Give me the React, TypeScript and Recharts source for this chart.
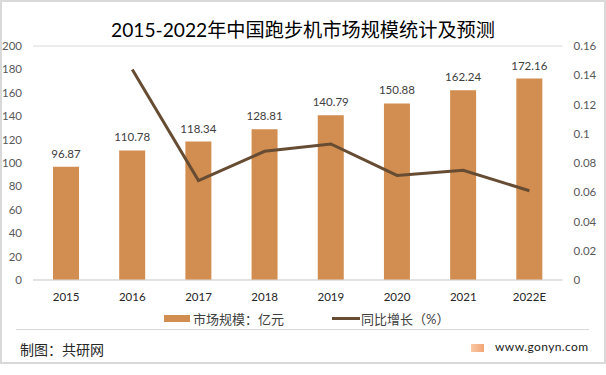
import React from 'react';
import { ComposedChart, Bar, Line, XAxis, YAxis, CartesianGrid, LabelList, Legend } from 'recharts';

const years = ['2015', '2016', '2017', '2018', '2019', '2020', '2021', '2022E'];
const marketSize = [96.87, 110.78, 118.34, 128.81, 140.79, 150.88, 162.24, 172.16];
const growth = [null, 0.144, 0.068, 0.088, 0.093, 0.0715, 0.075, 0.061];
const leftTicks = [0, 20, 40, 60, 80, 100, 120, 140, 160, 180, 200];
const rightTicks = [0, 0.02, 0.04, 0.06, 0.08, 0.1, 0.12, 0.14, 0.16];
const data = years.map((year, i) => ({ year, size: marketSize[i], growth: growth[i] }));

const FONT = 'Lato, "Noto Sans CJK SC", sans-serif';
const BAR = '#D28D50';
const LINE = '#664C33';

const LegendContent = () => (
  <div style={{ position: 'relative', height: 16, fontFamily: FONT, fontSize: 13, lineHeight: '16px', color: '#404040' }}>
    <span style={{ position: 'absolute', left: 164, top: 4, width: 26, height: 7, background: BAR }} />
    <span style={{ position: 'absolute', left: 193, top: 0, whiteSpace: 'nowrap' }}>市场规模：亿元</span>
    <span style={{ position: 'absolute', left: 332, top: 6, width: 28, height: 3, background: LINE }} />
    <span style={{ position: 'absolute', left: 361, top: 0, whiteSpace: 'nowrap' }}>同比增长（%）</span>
  </div>
);

export default function App() {
  return (
    <div style={{ position: 'absolute', left: 0, top: 0, width: 606, height: 375, background: '#fff', fontFamily: FONT, overflow: 'hidden' }}>
      <div style={{ position: 'absolute', left: 0, top: 0, width: 602, height: 360, border: '2px solid #d9d9d9' }} />
      <div style={{ position: 'absolute', left: 0, width: 606, top: 17, textAlign: 'center', fontSize: 19.2, color: '#000', lineHeight: '26px' }}>
        2015-2022年中国跑步机市场规模统计及预测
      </div>
      <div style={{ position: 'absolute', left: 0, top: 0 }}>
        <ComposedChart width={606} height={375} data={data} margin={{ top: 46, left: 0, right: 0, bottom: 59 }} barCategoryGap="60%" style={{ fontFamily: FONT }}>
          <CartesianGrid vertical={false} stroke="#d9d9d9" strokeWidth={1} />
          <XAxis dataKey="year" axisLine={{ stroke: '#d9d9d9' }} tickLine={false} interval={0} tick={{ fontSize: 11.5, fill: '#262626' }} tickMargin={7} height={20} />
          <YAxis yAxisId="l" domain={[0, 200]} ticks={leftTicks} width={33} axisLine={false} tickLine={false} tick={{ fontSize: 11.5, fill: '#595959' }} tickMargin={5} />
          <YAxis yAxisId="r" orientation="right" domain={[0, 0.16]} ticks={rightTicks} width={43.5} axisLine={false} tickLine={false} tick={{ fontSize: 11.5, fill: '#595959' }} tickMargin={5} />
          <Bar yAxisId="l" dataKey="size" fill={BAR} barSize={26} isAnimationActive={false}>
            <LabelList dataKey="size" position="top" offset={9} style={{ fontSize: 11.5, fill: '#404040' }} />
          </Bar>
          <Line yAxisId="r" dataKey="growth" stroke={LINE} strokeWidth={3} dot={false} connectNulls={false} type="linear" isAnimationActive={false} />
          <Legend content={<LegendContent />} verticalAlign="bottom" wrapperStyle={{ left: 0, top: 311, width: 606 }} />
        </ComposedChart>
      </div>
      <div style={{ position: 'absolute', left: 16, width: 573, top: 329, height: 1, background: '#d9d9d9' }} />
      <div style={{ position: 'absolute', left: 20, top: 340, lineHeight: '20px', fontSize: 14, color: '#262626', whiteSpace: 'nowrap' }}>制图：共研网</div>
      <div style={{ position: 'absolute', left: 471, top: 344, width: 13, height: 8, background: 'linear-gradient(90deg,#f9c9a5,#f2a577)' }} />
      <div style={{ position: 'absolute', left: 495, top: 338, lineHeight: '18px', fontSize: 12, color: '#1a1a1a', whiteSpace: 'nowrap', letterSpacing: 0.4 }}>www.gonyn.com</div>
    </div>
  );
}
